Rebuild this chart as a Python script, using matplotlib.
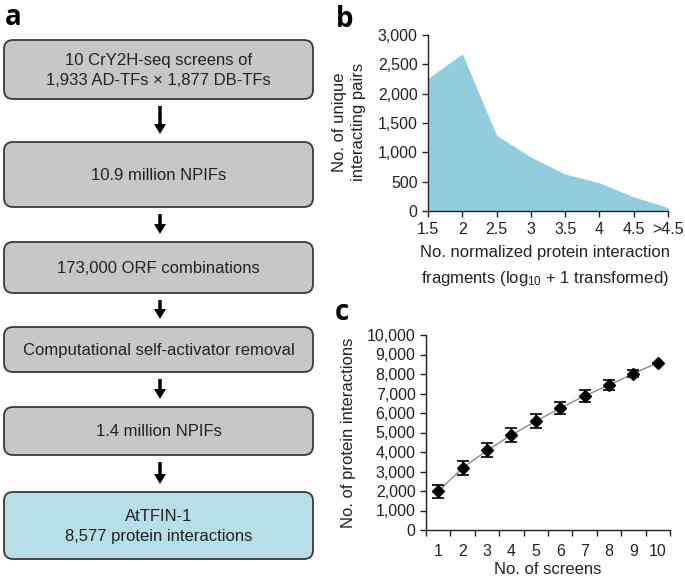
import numpy as np
import matplotlib.pyplot as plt
from matplotlib.patches import FancyBboxPatch, FancyArrow
from matplotlib.ticker import FuncFormatter

plt.rcParams['font.family'] = ['Liberation Sans', 'DejaVu Sans']
plt.rcParams['mathtext.default'] = 'regular'

# panel a: pipeline steps
steps = [
    "10 CrY2H-seq screens of\n1,933 AD-TFs \u00d7 1,877 DB-TFs",
    "10.9 million NPIFs",
    "173,000 ORF combinations",
    "Computational self-activator removal",
    "1.4 million NPIFs",
    "AtTFIN-1\n8,577 protein interactions",
]

# panel b: unique interacting pairs per NPIF bin
bins = ["1.5", "2", "2.5", "3", "3.5", "4", "4.5", ">4.5"]
pairs = [2260, 2680, 1290, 920, 630, 480, 240, 60]

# panel c: saturation over screens
screens = [1, 2, 3, 4, 5, 6, 7, 8, 9, 10]
interactions = [1980, 3180, 4080, 4870, 5580, 6250, 6880, 7430, 8020, 8577]
errors = [320, 380, 360, 360, 350, 310, 300, 250, 170, 0]

W, H = 685, 581
fig = plt.figure(figsize=(W / 100, H / 100), dpi=100)

# ---- a: flowchart drawn in pixel coordinates ----
axa = fig.add_axes([0, 0, 1, 1])
axa.set_xlim(0, W)
axa.set_ylim(H, 0)
axa.axis('off')

box_rows = [(40, 99), (142, 207), (242, 293), (327, 372), (407, 455), (492, 559)]
x0, x1 = 4, 313
for i, (txt, (top, bot)) in enumerate(zip(steps, box_rows)):
    face = '#B8DEE8' if i == len(steps) - 1 else '#C7C7C7'
    box = FancyBboxPatch((x0, top), x1 - x0, bot - top,
                         boxstyle="round,pad=0,rounding_size=9",
                         facecolor=face, edgecolor='#3a3a3a', linewidth=1.3)
    axa.add_patch(box)
    axa.text((x0 + x1) / 2, (top + bot) / 2 + 1, txt, ha='center', va='center',
             fontsize=12, color='#222222', linespacing=1.35)
    if i < len(steps) - 1:
        a_top = bot + 7
        a_bot = box_rows[i + 1][0] - 8
        axa.add_patch(FancyArrow(160, a_top, 0, a_bot - a_top, width=3.5,
                                 head_width=12, head_length=10,
                                 length_includes_head=True, color='black', lw=0))

fig.text(5 / W, 1 - 25 / H, 'a', fontsize=20, fontweight='bold',
         family=['Open Sans', 'DejaVu Sans'], va='baseline')
fig.text(336 / W, 1 - 27 / H, 'b', fontsize=20, fontweight='bold',
         family=['Open Sans', 'DejaVu Sans'], va='baseline')
fig.text(335 / W, 1 - 320 / H, 'c', fontsize=20, fontweight='bold',
         family=['Open Sans', 'DejaVu Sans'], va='baseline')

comma = FuncFormatter(lambda v, p: f"{int(v):,}")

def style_axes(ax):
    for s in ['top', 'right']:
        ax.spines[s].set_visible(False)
    for s in ['left', 'bottom']:
        ax.spines[s].set_color('#222222')
        ax.spines[s].set_linewidth(1.0)
    ax.tick_params(colors='#222222', labelsize=11.5, length=4, width=1.0)

# ---- b: area chart ----
axb = fig.add_axes([428 / W, 1 - 211 / H, 240 / W, 176 / H])
xb = np.arange(len(bins))
axb.fill_between(xb, pairs, 0, color='#92CDDD', lw=0)
axb.set_xlim(0, len(bins) - 1)
axb.set_ylim(0, 3000)
axb.set_xticks(xb)
axb.set_xticklabels(bins)
axb.set_yticks(np.arange(0, 3001, 500))
axb.yaxis.set_major_formatter(comma)
style_axes(axb)
axb.tick_params(axis='x', pad=4)
fig.text(349 / W, 1 - 122 / H, "No. of unique\ninteracting pairs", rotation=90,
         ha='center', va='center', fontsize=12, color='#222222', linespacing=1.3)
fig.text(545 / W, 1 - 253 / H, "No. normalized protein interaction",
         ha='center', va='center', fontsize=12, color='#222222')
fig.text(545 / W, 1 - 278 / H, "fragments (log$_{10}$ + 1 transformed)",
         ha='center', va='center', fontsize=12, color='#222222')

# ---- c: saturation curve ----
axc = fig.add_axes([426 / W, 1 - 530 / H, 244 / W, 195 / H])
axc.plot(screens, interactions, color='#808080', lw=0.9, zorder=2)
axc.errorbar(screens, interactions, yerr=errors, fmt='D', color='black',
             ms=6, capsize=4.5, elinewidth=1.2, capthick=1.2, zorder=3)
axc.set_xlim(0.5, len(screens) + 0.5)
axc.set_ylim(0, 10000)
axc.set_xticks(np.arange(0.5, len(screens) + 1, 1))
axc.set_xticklabels([])
axc.set_xticks(screens, minor=True)
axc.set_xticklabels([str(s) for s in screens], minor=True)
axc.set_yticks(np.arange(0, 10001, 1000))
axc.yaxis.set_major_formatter(comma)
style_axes(axc)
axc.tick_params(axis='x', which='minor', length=0, pad=10, labelsize=11.5,
                colors='#222222')
axc.set_xlabel("No. of screens", fontsize=12, color='#222222', labelpad=2)
axc.set_ylabel("No. of protein interactions", fontsize=12, color='#222222',
               labelpad=8)

fig.savefig('out.png', dpi=100)
